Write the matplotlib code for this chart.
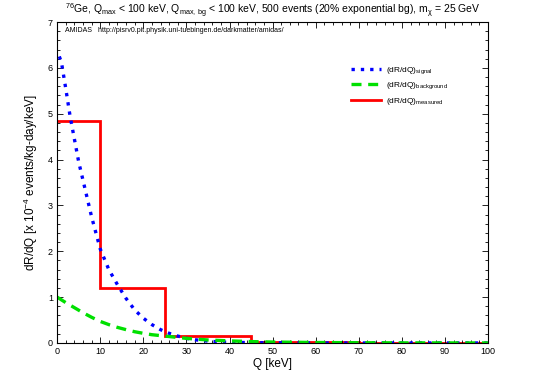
import matplotlib
matplotlib.use('Agg')
import matplotlib.pyplot as plt
from matplotlib.ticker import MultipleLocator

plt.rcParams['font.family'] = ['Liberation Sans', 'DejaVu Sans']
plt.rcParams['mathtext.fontset'] = 'custom'
plt.rcParams['mathtext.rm'] = 'Liberation Sans'
plt.rcParams['mathtext.it'] = 'Liberation Sans:italic'
plt.rcParams['mathtext.default'] = 'regular'

# Datos
q_signal = [0.5, 1, 2, 3, 4, 5, 6, 8, 10, 12, 14, 16, 18, 20, 22, 24, 26, 28,
            30, 32, 35, 38, 40, 45, 50, 60, 70, 80, 90, 100]
signal = [6.25, 6.12, 5.55, 4.95, 4.45, 3.95, 3.55, 2.75, 2.05, 1.6, 1.27, 0.97,
          0.72, 0.54, 0.40, 0.29, 0.21, 0.15, 0.10, 0.07, 0.04, 0.02, 0.015,
          0.007, 0.003, 0.001, 0.0, 0.0, 0.0, 0.0]

q_bg = [0, 2, 4, 6, 8, 10, 12, 14, 16, 18, 20, 22, 25, 28, 30, 35, 40, 45, 50,
        60, 70, 80, 90, 100]
background = [1.0, 0.88, 0.77, 0.66, 0.56, 0.47, 0.40, 0.34, 0.29, 0.245, 0.21,
              0.18, 0.15, 0.12, 0.10, 0.065, 0.045, 0.03, 0.02, 0.01, 0.005,
              0.002, 0.001, 0.0]

bin_edges = [0, 10, 25, 45, 70, 100]
measured = [4.85, 1.2, 0.15, 0.03, 0.005]

fig = plt.figure(figsize=(5.34, 3.74), dpi=100)
ax = fig.add_axes([0.107, 0.083, 0.807, 0.858])

ax.plot(q_signal, signal, color='blue', linestyle=(0, (1, 1.8)), linewidth=2.4,
        label='(dR/dQ)$_{signal}$')
ax.plot(q_bg, background, color='#00e000', linestyle=(0, (3, 2)), linewidth=2.4,
        label='(dR/dQ)$_{background}$')
ax.stairs(measured, bin_edges, color='red', linewidth=2.0, baseline=None,
          label='(dR/dQ)$_{measured}$')

ax.set_xlim(0, 100)
ax.set_ylim(0, 7)
ax.xaxis.set_major_locator(MultipleLocator(10))
ax.xaxis.set_minor_locator(MultipleLocator(2))
ax.yaxis.set_major_locator(MultipleLocator(1))
ax.yaxis.set_minor_locator(MultipleLocator(0.2))
ax.tick_params(which='both', direction='in', top=True, right=True,
               labelsize=6.5, pad=3, width=0.6)
ax.tick_params(which='major', length=4)
ax.tick_params(which='minor', length=2)
for s in ax.spines.values():
    s.set_linewidth(0.8)

ax.set_xlabel('Q [keV]', fontsize=8.5, labelpad=1)
ax.set_ylabel('dR/dQ [x 10$^{-4}$ events/kg-day/keV]', fontsize=8.5, labelpad=6)
ax.set_title('$^{76}$Ge, Q$_{max}$ < 100 keV, Q$_{max,\\,bg}$ < 100 keV, 500 events '
             '(20% exponential bg), m$_{\\chi}$ = 25 GeV', fontsize=7.5, pad=6)
ax.text(0.018, 0.985, 'AMIDAS   http://pisrv0.pit.physik.uni-tuebingen.de/darkmatter/amidas/',
        transform=ax.transAxes, fontsize=5, va='top', ha='left')

ax.legend(loc='upper right', bbox_to_anchor=(0.925, 0.89), frameon=False,
          fontsize=6, handlelength=3.6, handletextpad=0.6, labelspacing=0.55)

plt.savefig('out.png', dpi=100)
